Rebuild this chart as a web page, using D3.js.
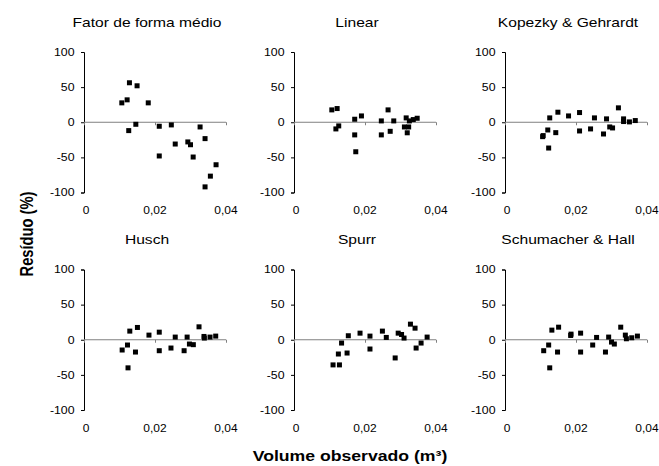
<!DOCTYPE html>
<html><head><meta charset="utf-8">
<script src="https://cdn.jsdelivr.net/npm/d3@7"></script>
<style>body{margin:0;background:#fff}svg{display:block}text{font-family:"Liberation Sans",Arial,sans-serif}</style>
</head><body><svg id="c" width="659" height="466"></svg>
<script>
const titles = ["Fator de forma médio","Linear","Kopezky & Gehrardt","Husch","Spurr","Schumacher & Hall"];
const xTicks = [0, 0.02, 0.04];
const xTickLabels = ["0","0,02","0,04"];
const yTicks = [100, 50, 0, -50, -100];
const yTickLabels = ["100","50","0","-50","-100"];
const xLabel = "Volume observado (m³)";
const yLabel = "Resíduo (%)";

// volumes (m³) and residues (%) for each panel
const volFatorForma = [0.01065,0.01215,0.0128,0.0126,0.01495,0.0146,0.0181,0.0212,0.0212,0.0246,0.0257,0.02925,0.0300,0.03075,0.0327,0.0341,0.0341,0.0356,0.0372];
const resFatorForma = [27.6,31.9,56.2,-11.9,51.9,-2.9,27.6,-5.7,-48,-3.8,-31,-28,-32,-49.5,-6.7,-23.3,-92,-76.7,-60.5];

const volLinear = [0.01065,0.01215,0.0118,0.0126,0.0171,0.0171,0.0174,0.0190,0.0246,0.0246,0.0265,0.0271,0.0281,0.0311,0.0316,0.0319,0.0323,0.0325,0.0336,0.0347];
const resLinear = [17.6,19.5,-9.5,-5.2,4.3,-18,-42,9,1.9,-18,17.6,-12.9,1.9,-6.7,6.2,-15,-6.7,1.9,3.8,5.7];

const volKopezky = [0.0106,0.01075,0.01205,0.0126,0.0123,0.0143,0.0149,0.0179,0.0210,0.0210,0.0241,0.0252,0.02775,0.0286,0.0295,0.0303,0.03195,0.0334,0.0334,0.03505,0.0367];
const resKopezky = [-20.5,-19,-11,6.2,-36.7,-14.8,14.3,9,13.8,-12.4,-9.5,6.2,-16.7,4.8,-6.7,-8.1,20.5,4.8,1,0.5,2.4];

const volHusch = [0.01075,0.01225,0.0129,0.0124,0.0145,0.01505,0.0183,0.0212,0.0212,0.0245,0.0257,0.0282,0.02905,0.0297,0.0308,0.0324,0.0338,0.0339,0.0355,0.0371];
const resHusch = [-14.6,-7.5,12.3,-40,-17.5,17.5,6.6,10.8,-15.6,-11.8,3.8,-15.6,3.8,-6.1,-7,18.4,4.7,2.4,3.8,5.2];

const volSpurr = [0.0110,0.0128,0.0125,0.0134,0.01495,0.0153,0.0186,0.0214,0.0214,0.0249,0.0260,0.0285,0.02935,0.0303,0.0310,0.0328,0.0341,0.0344,0.0358,0.0375];
const resSpurr = [-35.8,-35.8,-20.3,-4.7,-18.9,5.7,9.4,5.2,-13.2,12.3,3.3,-25.9,9.4,7.5,2.4,22.2,16.5,-11.8,-4.7,3.8];

const volSchumacher = [0.0109,0.0123,0.0132,0.0126,0.0148,0.0151,0.0185,0.0186,0.0213,0.0213,0.0247,0.0258,0.0283,0.0292,0.0300,0.0308,0.0326,0.0339,0.0342,0.0357,0.0373];
const resSchumacher = [-15.6,-7.5,13.7,-40,-17.5,17.9,6.1,8,9.4,-17.5,-7.5,3.3,-17.5,3.8,-3.3,-6.1,17.9,6.6,1.4,2.8,5.2];

const vols = [volFatorForma, volLinear, volKopezky, volHusch, volSpurr, volSchumacher];
const ress = [resFatorForma, resLinear, resKopezky, resHusch, resSpurr, resSchumacher];

const svg = d3.select("#c");
const colX = [84, 294, 505];
const rowY = [52, 269.5];
const W = 142, H = 140.5;

function label(parent, x, y, txt, size, anchor, weight, sx) {
  return parent.append("text")
    .attr("transform", `translate(${x},${y}) scale(${sx || 1.2},1)`)
    .attr("text-anchor", anchor).attr("font-size", size)
    .attr("font-weight", weight || "normal").attr("fill", "#000").text(txt);
}

titles.forEach((t, i) => {
  const c = i % 3, r = Math.floor(i / 3);
  const x = d3.scaleLinear().domain([0, 0.04]).range([colX[c], colX[c] + W]);
  const y = d3.scaleLinear().domain([-100, 100]).range([rowY[r] + H, rowY[r]]);
  const g = svg.append("g");

  label(g, colX[c] + 63, rowY[r] - 25.5, t, 13, "middle");

  // y axis
  const ya = g.append("g").attr("transform", `translate(${colX[c]},0)`)
    .call(d3.axisLeft(y).tickValues(yTicks).tickSize(3).tickFormat(""));
  ya.select(".domain").attr("stroke", "#000");
  ya.selectAll(".tick line").attr("stroke", "#000");
  yTicks.forEach((d, k) => label(g, colX[c] - 9.5, y(d) + 3.8, yTickLabels[k], 10.7, "end", null, 1.15));

  // x axis along zero line
  const xa = g.append("g").attr("transform", `translate(0,${y(0)})`)
    .call(d3.axisBottom(x).tickValues(xTicks).tickSize(3).tickFormat(""));
  xa.select(".domain").attr("stroke", "#808080").attr("d", `M${colX[c]},0H${colX[c] + W}`);
  xa.selectAll(".tick line").attr("stroke", "#808080");

  xTicks.forEach((d, k) => label(g, x(d) + (k === 0 ? 2 : 0), rowY[r] + H + 21.5, xTickLabels[k], 10.7, "middle", null, 1.12));

  // points
  const s = 5;
  g.selectAll("rect.p").data(vols[i].map((v, k) => [v, ress[i][k]])).join("rect")
    .attr("class", "p")
    .attr("x", (d) => x(d[0]) - s / 2).attr("y", (d) => y(d[1]) - s / 2)
    .attr("width", s).attr("height", s).attr("fill", "#000");
});

label(svg, 350, 461, xLabel, 14.7, "middle", "bold");
svg.append("text").attr("transform", "translate(33,234) scale(1.2,1) rotate(-90)").attr("text-anchor", "middle")
  .attr("font-size", 14.7).attr("font-weight", "bold").attr("fill", "#000").text(yLabel);
</script></body></html>
